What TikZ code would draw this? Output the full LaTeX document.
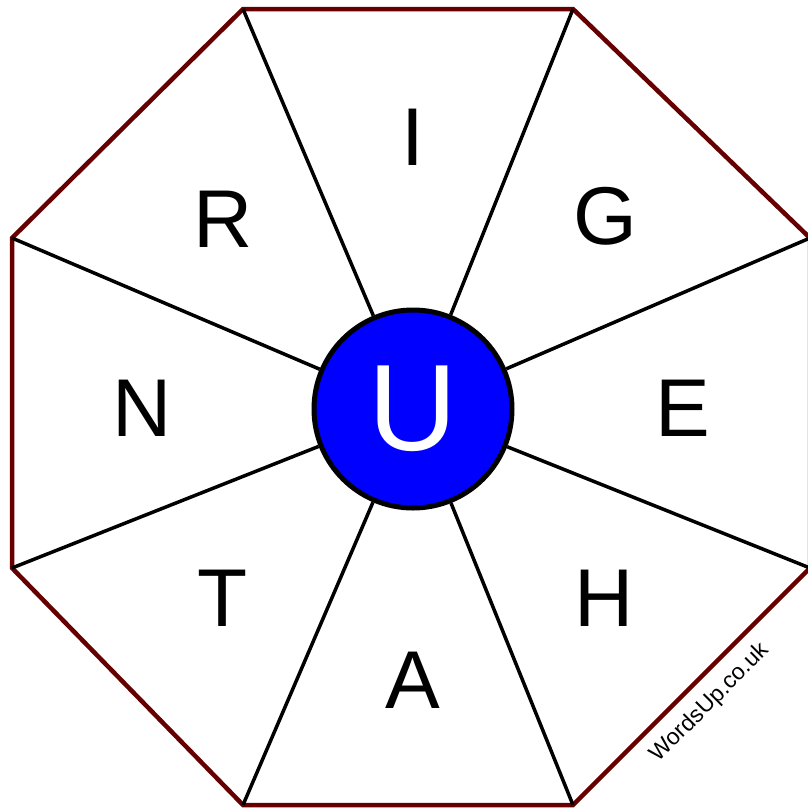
\documentclass[tikz,border=0pt]{standalone}
\usepackage{fontspec}
\setmainfont{Liberation Sans}
\usepackage{xcolor}
\definecolor{rimred}{RGB}{102,0,0}
\definecolor{hubblue}{RGB}{0,0,255}

\begin{document}
\begin{tikzpicture}[
    x=1pt, y=-1pt,
    letter/.style={font=\fontsize{82}{82}\selectfont, inner sep=0pt},
    hub/.style={circle, draw=black, line width=5pt, fill=hubblue, text=white,
      minimum size=198pt, inner sep=0pt, font=\fontsize{123}{123}\selectfont},
    spoke/.style={line width=3.5pt, black},
    rim/.style={line width=4.5pt, rimred, line join=miter},
  ]

  \useasboundingbox (0,0) rectangle (808,809);

  \coordinate (v1) at (243,   9);
  \coordinate (v2) at (573,   9);
  \coordinate (v3) at (810, 238);
  \coordinate (v4) at (810, 568);
  \coordinate (v5) at (573, 805);
  \coordinate (v6) at (243, 805);
  \coordinate (v7) at (12,  568);
  \coordinate (v8) at (12,  238);

  \draw[rim] (v1) -- (v2) -- (v3) -- (v4) -- (v5) -- (v6) -- (v7) -- (v8) -- cycle;

  \node[hub] (u) at (413, 409) {U};

  \foreach \v in {v1,v2,v3,v4,v5,v6,v7,v8}
    \draw[spoke] (\v) -- (u);

  \node[letter] (i) at (413, 137) {I};
  \node[letter] (g) at (605, 216) {G};
  \node[letter] (e) at (683, 408) {E};
  \node[letter] (h) at (604, 598) {H};
  \node[letter] (a) at (413, 680) {A};
  \node[letter] (t) at (223, 598) {T};
  \node[letter] (n) at (142, 408) {N};
  \node[letter] (r) at (223, 219) {R};

  \node[rotate=45, font=\fontsize{23}{23}\selectfont, inner sep=0pt] (site) at (710, 703) {WordsUp.co.uk};

\end{tikzpicture}
\end{document}
